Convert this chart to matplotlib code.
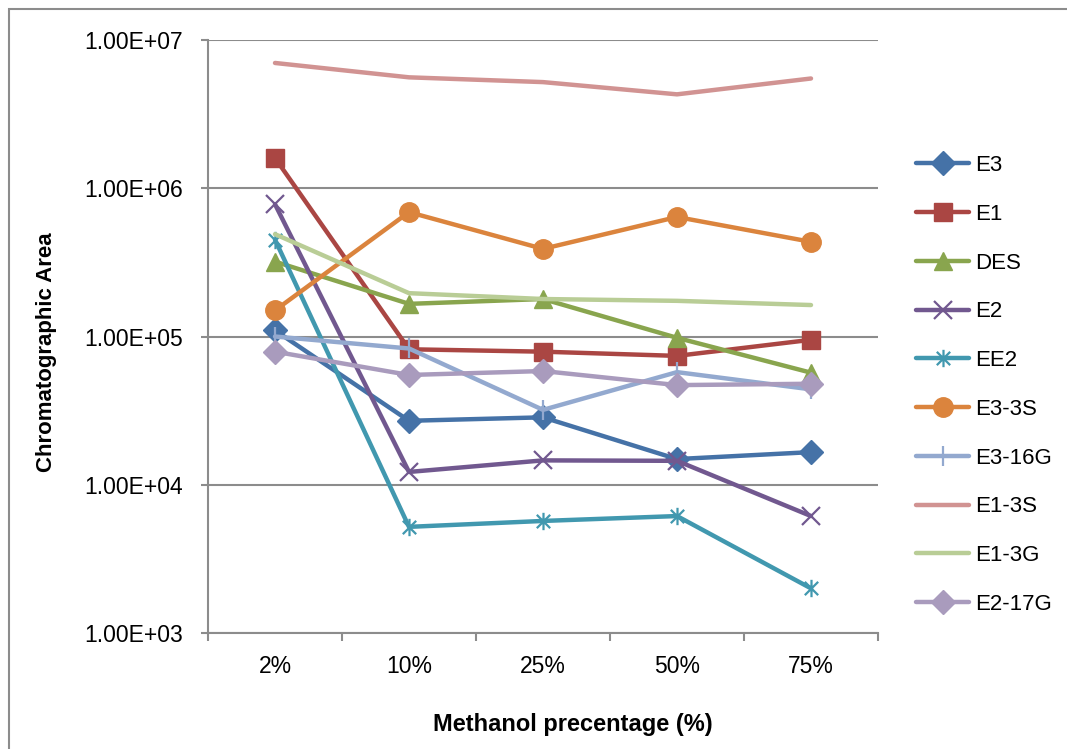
import matplotlib
matplotlib.use("Agg")
import matplotlib.pyplot as plt
from matplotlib.path import Path
from matplotlib.patches import Rectangle
from matplotlib.ticker import FixedLocator

plt.rcParams['font.family'] = ['Liberation Sans', 'DejaVu Sans']

categories = ["2%", "10%", "25%", "50%", "75%"]
series_names = ["E3", "E1", "DES", "E2", "EE2", "E3-3S", "E3-16G", "E1-3S", "E1-3G", "E2-17G"]

e3 = [1.10e5, 2.7e4, 2.85e4, 1.49e4, 1.66e4]
e1 = [1.60e6, 8.2e4, 7.9e4, 7.4e4, 9.5e4]
des = [3.2e5, 1.66e5, 1.79e5, 9.8e4, 5.7e4]
e2 = [7.8e5, 1.22e4, 1.46e4, 1.45e4, 6.15e3]
ee2 = [4.5e5, 5.2e3, 5.7e3, 6.15e3, 2.0e3]
e3_3s = [1.5e5, 6.9e5, 3.9e5, 6.4e5, 4.35e5]
e3_16g = [1.0e5, 8.3e4, 3.2e4, 5.75e4, 4.4e4]
e1_3s = [7.0e6, 5.6e6, 5.2e6, 4.3e6, 5.5e6]
e1_3g = [4.9e5, 1.96e5, 1.79e5, 1.74e5, 1.63e5]
e2_17g = [7.9e4, 5.5e4, 5.85e4, 4.7e4, 4.8e4]

values = [e3, e1, des, e2, ee2, e3_3s, e3_16g, e1_3s, e1_3g, e2_17g]

colors = ["#4572A7", "#AA4643", "#89A54E", "#71588F", "#4198AF",
          "#DB843D", "#93A9CF", "#D19392", "#B9CD96", "#A99BBD"]

# asterisk: an "x" crossed by a vertical bar
asterisk = Path([(-1, -1), (1, 1), (-1, 1), (1, -1), (0, -1.3), (0, 1.3)],
                [Path.MOVETO, Path.LINETO, Path.MOVETO, Path.LINETO, Path.MOVETO, Path.LINETO])

marker_styles = [
    dict(marker='D', ms=12),
    dict(marker='s', ms=13),
    dict(marker='^', ms=13.5),
    dict(marker='x', ms=12.5, mew=1.6),
    dict(marker=asterisk, ms=12.5, mew=1.6, mfc='none'),
    dict(marker='o', ms=14),
    dict(marker='|', ms=14, mew=1.6),
    dict(marker='None'),
    dict(marker='None'),
    dict(marker='D', ms=12),
]

fig = plt.figure(figsize=(10.67, 7.49), dpi=100)
ax = fig.add_axes([208 / 1067, 1 - 633 / 749, (878 - 208) / 1067, (633 - 40) / 749])

x = list(range(len(categories)))
grid_c = "#8C8C8C"

for i, (name, vals, col, ms) in enumerate(zip(series_names, values, colors, marker_styles)):
    ax.plot(x, vals, color=col, lw=3.2, label=name, solid_capstyle='round',
            solid_joinstyle='round', zorder=3 + i, markeredgecolor=col,
            **({'markerfacecolor': col} if 'mfc' not in ms else {}), **ms)

ax.set_yscale('log')
ax.set_ylim(1e3, 1e7)
ax.set_xlim(-0.5, 4.5)

ax.yaxis.set_major_locator(FixedLocator([1e3, 1e4, 1e5, 1e6, 1e7]))
ax.yaxis.set_minor_locator(FixedLocator([]))
ax.set_yticklabels(["1.00E+03", "1.00E+04", "1.00E+05", "1.00E+06", "1.00E+07"])
ax.set_xticks(x)
ax.set_xticklabels(categories)
ax.set_xticks([-0.5, 0.5, 1.5, 2.5, 3.5, 4.5], minor=True)

ax.tick_params(axis='y', which='major', direction='out', length=5, width=1.5,
               color=grid_c, labelsize=16.5, pad=13)
ax.tick_params(axis='x', which='major', length=0, labelsize=16.5, pad=16)
ax.tick_params(axis='x', which='minor', direction='out', length=6, width=1.5, color=grid_c)

ax.grid(axis='y', which='major', color=grid_c, lw=1.5)
ax.set_axisbelow(True)
for side in ('top', 'right'):
    ax.spines[side].set_visible(False)
for side in ('left', 'bottom'):
    ax.spines[side].set_color(grid_c)
    ax.spines[side].set_linewidth(1.5)

fig.text(573 / 1067, 1 - 725 / 749, "Methanol precentage (%)", ha='center', va='center',
         fontsize=17, fontweight='bold')
fig.text(47 / 1067, 1 - 352 / 749, "Chromatographic Area", ha='center', va='center',
         rotation=90, fontsize=16, fontweight='bold')

leg = ax.legend(loc='center left', bbox_to_anchor=(916 / 1067, 1 - 385 / 749),
                bbox_transform=fig.transFigure, frameon=False, fontsize=16,
                handlelength=2.4, handletextpad=0.25, labelspacing=1.25,
                borderpad=0, borderaxespad=0)

# chart border
fig.patches.append(Rectangle((9 / 1067, -0.05), 1.1, 1 - 9 / 749 + 0.05,
                             transform=fig.transFigure, fill=False,
                             edgecolor=grid_c, lw=1.5))

fig.savefig("out.png", dpi=100)
